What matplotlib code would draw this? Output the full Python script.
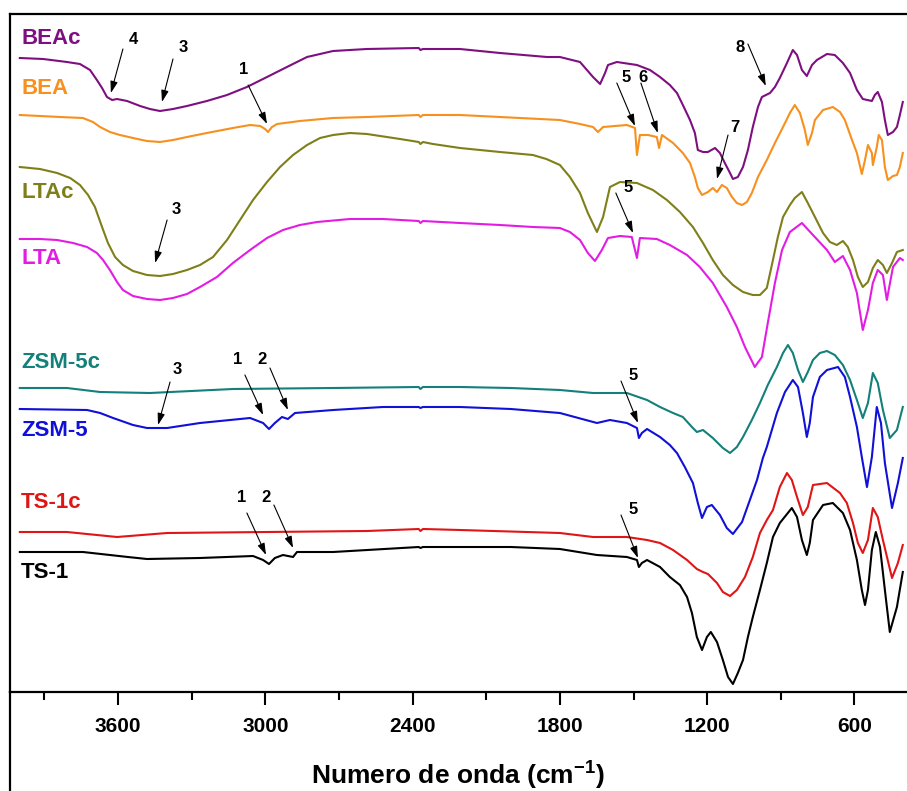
import numpy as np
import matplotlib
matplotlib.use("Agg")
import matplotlib.pyplot as plt
from matplotlib.lines import Line2D

plt.rcParams['font.family'] = ['Liberation Sans', 'DejaVu Sans']
plt.rcParams['font.weight'] = 'bold'

# ===========================
# Spectra: (wavenumber cm-1, transmittance a.u. incl. offset)
# ===========================
beac = [(4000, 634), (3905, 633), (3808, 630), (3755, 628), (3714, 622), (3686, 612), (3665, 604),
        (3645, 595), (3624, 592), (3604, 593), (3563, 591), (3510, 586), (3470, 583), (3429, 581),
        (3376, 583), (3319, 586), (3238, 591), (3156, 597), (3075, 605), (2993, 615), (2912, 625),
        (2830, 635), (2724, 641), (2586, 643), (2375, 644), (2368, 642), (2358, 643), (2207, 643),
        (2044, 639), (1853, 635), (1800, 635), (1718, 630), (1665, 615), (1636, 608), (1616, 619),
        (1604, 627), (1568, 630), (1486, 627), (1433, 622), (1392, 615), (1352, 607), (1323, 599),
        (1299, 587), (1270, 572), (1250, 559), (1238, 542), (1217, 540), (1197, 540), (1168, 544),
        (1148, 539), (1128, 529), (1107, 519), (1095, 513), (1075, 515), (1054, 525), (1034, 542),
        (1014, 565), (993, 585), (977, 595), (944, 599), (924, 605), (904, 614), (875, 629),
        (851, 642), (834, 637), (814, 622), (794, 616), (773, 627), (753, 632), (712, 638),
        (680, 637), (647, 629), (618, 619), (590, 602), (566, 593), (529, 591), (517, 597),
        (505, 600), (488, 590), (476, 572), (464, 557), (443, 560), (427, 565), (415, 577), (403, 590)]

bea = [(4000, 577), (3836, 575), (3743, 574), (3702, 570), (3673, 565), (3633, 560), (3592, 557),
       (3539, 554), (3482, 551), (3429, 550), (3376, 552), (3319, 555), (3238, 559), (3132, 564),
       (3062, 567), (3021, 566), (3001, 563), (2989, 560), (2973, 565), (2952, 568), (2859, 571),
       (2724, 574), (2586, 575), (2375, 577), (2368, 575), (2358, 577), (2207, 577), (2044, 575),
       (1800, 572), (1718, 568), (1665, 565), (1645, 560), (1624, 565), (1527, 567), (1494, 564),
       (1486, 537), (1474, 557), (1441, 557), (1405, 555), (1396, 544), (1384, 557), (1339, 549),
       (1299, 539), (1270, 529), (1250, 515), (1238, 504), (1221, 497), (1197, 500), (1177, 504),
       (1160, 500), (1140, 507), (1120, 504), (1099, 495), (1079, 489), (1058, 487), (1038, 490),
       (1018, 499), (993, 515), (957, 532), (924, 549), (891, 565), (863, 579), (843, 587),
       (822, 579), (802, 562), (790, 547), (773, 559), (761, 572), (728, 582), (688, 585),
       (659, 580), (639, 572), (610, 552), (590, 539), (570, 518), (557, 532), (545, 547),
       (529, 539), (525, 527), (509, 545), (501, 557), (488, 552), (476, 525), (464, 512),
       (443, 516), (427, 517), (415, 525), (403, 539)]

ltac = [(4000, 525), (3918, 523), (3848, 519), (3795, 514), (3755, 507), (3722, 497), (3694, 485),
        (3665, 465), (3641, 449), (3612, 435), (3580, 427), (3539, 421), (3482, 417), (3429, 416),
        (3376, 418), (3319, 422), (3266, 427), (3213, 435), (3156, 452), (3103, 472), (3050, 492),
        (2993, 510), (2940, 525), (2887, 537), (2830, 547), (2777, 554), (2724, 557), (2655, 559),
        (2586, 558), (2451, 553), (2375, 550), (2368, 548), (2358, 550), (2317, 548), (2207, 544),
        (2044, 540), (1910, 537), (1855, 533), (1800, 527), (1759, 515), (1718, 499), (1686, 479),
        (1649, 460), (1624, 475), (1596, 505), (1555, 510), (1486, 509), (1421, 502), (1364, 492),
        (1311, 480), (1258, 465), (1217, 449), (1177, 432), (1136, 417), (1095, 407), (1054, 400),
        (1014, 397), (985, 397), (957, 404), (932, 432), (912, 455), (891, 475), (863, 487),
        (843, 494), (814, 500), (790, 489), (761, 475), (728, 459), (700, 450), (672, 447),
        (647, 451), (627, 445), (606, 432), (586, 415), (566, 405), (545, 410), (525, 424),
        (505, 432), (484, 427), (468, 419), (447, 429), (427, 440), (403, 442)]

lta = [(4000, 453), (3918, 453), (3848, 452), (3783, 449), (3726, 445), (3686, 439), (3661, 432),
       (3633, 422), (3604, 410), (3580, 402), (3539, 396), (3482, 393), (3429, 392), (3376, 394),
       (3319, 398), (3266, 405), (3197, 415), (3132, 429), (3062, 442), (2993, 454), (2928, 462),
       (2859, 467), (2789, 470), (2655, 473), (2521, 473), (2375, 471), (2368, 469), (2358, 471),
       (2207, 469), (2044, 467), (1910, 465), (1800, 464), (1759, 460), (1718, 452), (1686, 439),
       (1657, 431), (1629, 442), (1604, 454), (1555, 456), (1507, 455), (1486, 434), (1474, 454),
       (1405, 453), (1352, 447), (1282, 437), (1230, 425), (1177, 409), (1120, 385), (1079, 365),
       (1046, 345), (1006, 325), (977, 335), (953, 369), (924, 409), (895, 442), (863, 460),
       (814, 469), (769, 457), (712, 442), (680, 430), (647, 436), (618, 422), (590, 399),
       (566, 362), (545, 382), (525, 409), (505, 422), (484, 417), (468, 392), (443, 425),
       (415, 434), (403, 432)]

zsm5c = [(4000, 304), (3900, 304), (3808, 304), (3673, 300), (3470, 299), (3132, 303), (2724, 304),
         (2375, 305), (2368, 303), (2358, 305), (2207, 305), (2000, 304), (1800, 302), (1665, 299),
         (1527, 299), (1445, 292), (1392, 285), (1339, 279), (1299, 275), (1262, 265), (1242, 260),
         (1217, 262), (1177, 254), (1136, 244), (1107, 239), (1079, 245), (1054, 255), (1018, 272),
         (985, 289), (953, 307), (916, 325), (891, 339), (871, 347), (851, 339), (830, 322),
         (810, 310), (790, 320), (769, 332), (741, 339), (712, 341), (680, 337), (647, 327),
         (618, 312), (590, 292), (566, 274), (545, 289), (525, 319), (505, 309), (484, 282),
         (456, 254), (427, 262), (403, 285)]

zsm5 = [(4000, 283), (3726, 282), (3673, 279), (3620, 274), (3539, 267), (3482, 264), (3400, 264),
        (3266, 269), (3062, 274), (3009, 269), (2985, 263), (2961, 269), (2932, 275), (2908, 273),
        (2879, 279), (2724, 282), (2521, 285), (2375, 285), (2368, 284), (2358, 285), (2207, 285),
        (2000, 283), (1800, 279), (1649, 269), (1596, 272), (1527, 269), (1486, 264), (1478, 254),
        (1466, 259), (1445, 263), (1392, 255), (1352, 247), (1323, 239), (1291, 225), (1258, 209),
        (1238, 189), (1221, 174), (1201, 185), (1181, 187), (1148, 177), (1120, 164), (1095, 158),
        (1058, 170), (1026, 192), (997, 212), (973, 234), (957, 245), (916, 279), (883, 300),
        (851, 312), (830, 305), (810, 279), (794, 255), (782, 269), (769, 295), (741, 315),
        (712, 322), (667, 325), (639, 315), (618, 295), (590, 265), (570, 235), (549, 205),
        (529, 235), (509, 285), (492, 269), (476, 229), (447, 184), (423, 209), (403, 234)]

ts1c = [(4000, 160), (3808, 160), (3604, 155), (3400, 159), (2993, 160), (2586, 161), (2375, 163),
        (2368, 161), (2358, 163), (2207, 162), (1800, 159), (1665, 155), (1527, 155), (1445, 152),
        (1392, 149), (1339, 142), (1282, 132), (1242, 123), (1217, 120), (1197, 118), (1160, 109),
        (1136, 100), (1107, 96), (1079, 102), (1046, 115), (1014, 135), (985, 159), (957, 172),
        (932, 182), (904, 205), (875, 219), (855, 212), (834, 195), (810, 177), (790, 185),
        (769, 207), (712, 209), (659, 199), (631, 189), (606, 169), (586, 149), (566, 139),
        (545, 152), (525, 184), (505, 175), (484, 152), (447, 114), (423, 129), (403, 147)]

ts1 = [(4000, 140), (3743, 140), (3633, 137), (3560, 135), (3482, 133), (3266, 134), (3050, 136),
       (3009, 132), (2985, 128), (2961, 134), (2928, 137), (2887, 135), (2871, 140), (2724, 140),
       (2375, 145), (2368, 144), (2358, 145), (2207, 145), (2000, 145), (1800, 143), (1649, 137),
       (1527, 135), (1486, 132), (1478, 125), (1466, 129), (1445, 132), (1392, 125), (1352, 115),
       (1311, 107), (1282, 95), (1262, 79), (1242, 55), (1221, 42), (1201, 55), (1185, 60),
       (1160, 50), (1136, 32), (1115, 15), (1095, 8), (1075, 19), (1054, 32), (1034, 55),
       (1014, 75), (985, 102), (957, 129), (932, 155), (904, 169), (855, 184), (834, 175),
       (814, 152), (794, 137), (782, 149), (769, 172), (728, 187), (688, 189), (647, 179),
       (618, 162), (590, 132), (570, 102), (557, 87), (545, 102), (529, 142), (513, 160),
       (496, 145), (476, 102), (456, 60), (427, 85), (403, 120)]

names = ["BEAc", "BEA", "LTAc", "LTA", "ZSM-5c", "ZSM-5", "TS-1c", "TS-1"]
spectra = [beac, bea, ltac, lta, zsm5c, zsm5, ts1c, ts1]
colors = ["#7E0F80", "#F7901E", "#7F7F1A", "#E31CE3", "#13807A", "#1010D8", "#E01515", "#000000"]
label_y = [654, 604, 499, 434, 330, 262, 189, 120]

# band markers: number, text pos, arrow start, arrow tip (data coords)
bands = [
    ("4", (3539, 653), (3580, 643), (3629, 599)),
    ("3", (3335, 645), (3376, 633), (3421, 590)),
    ("1", (3087, 622), (3070, 607), (2993, 568)),
    ("3", (3364, 482), (3400, 472), (3449, 429)),
    ("5", (1531, 614), (1568, 609), (1494, 566)),
    ("6", (1462, 614), (1470, 609), (1401, 559)),
    ("8", (1067, 645), (1034, 648), (961, 606)),
    ("7", (1087, 565), (1115, 557), (1160, 513)),
    ("5", (1523, 504), (1572, 499), (1502, 459)),
    ("3", (3360, 322), (3388, 310), (3437, 267)),
    ("1", (3111, 332), (3083, 317), (3009, 277)),
    ("2", (3013, 332), (2981, 324), (2908, 282)),
    ("1", (3095, 194), (3075, 179), (2997, 137)),
    ("2", (2997, 194), (2965, 187), (2887, 144)),
    ("5", (1502, 317), (1551, 311), (1482, 269)),
    ("5", (1502, 183), (1551, 177), (1482, 134)),
]

fig = plt.figure(figsize=(9.07, 7.91), dpi=100)
ax = fig.add_axes([10 / 907, 99 / 791, 896 / 907, 678 / 791])

for name, spec, col, ly in zip(names, spectra, colors, label_y):
    wn, t = np.array(spec).T
    ax.plot(wn, t, color=col, lw=1.5)
    ax.text(3995, ly, name, color=col, fontsize=16, fontweight='bold', va='center', ha='left')

for num, tpos, start, tip in bands:
    ax.text(tpos[0], tpos[1], num, fontsize=12, fontweight='bold', ha='center', va='center')
    ax.annotate("", xy=tip, xytext=start,
                arrowprops=dict(arrowstyle="-|>,head_length=0.7,head_width=0.22", color="black",
                                lw=0.8, shrinkA=0, shrinkB=0))

ax.set_xlim(4040, 390)
ax.set_ylim(0, 678)
ax.set_xticks([3600, 3000, 2400, 1800, 1200, 600])
ax.set_xticks([3900, 3300, 2700, 2100, 1500, 900], minor=True)
ax.set_yticks([])
ax.tick_params(axis='x', which='major', length=9, width=1.5, pad=9, labelsize=15)
ax.tick_params(axis='x', which='minor', length=6, width=1.5)
for lab in ax.get_xticklabels():
    lab.set_fontweight('bold')
ax.spines['right'].set_visible(False)
for s in ['left', 'top', 'bottom']:
    ax.spines[s].set_linewidth(1.6)
ax.set_xlabel("Numero de onda (cm$^{\\mathregular{-1}}$)", fontsize=19, fontweight='bold', labelpad=16)

# left frame line continues to the bottom of the figure
fig.add_artist(Line2D([10 / 907, 10 / 907], [0, 99 / 791], color='black', lw=1.6))

fig.savefig("out.png", dpi=100)
